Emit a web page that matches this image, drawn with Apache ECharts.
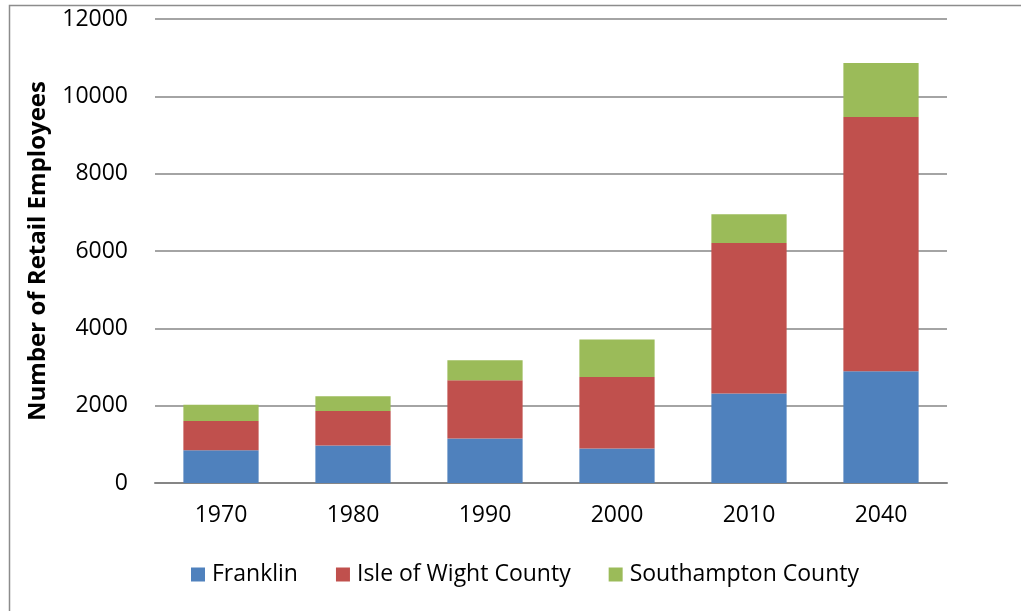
<!DOCTYPE html>
<html lang="en">
<head>
    <meta charset="UTF-8">
    <title>Retail Employees</title>
    <script src="https://cdn.jsdelivr.net/npm/echarts@6/dist/echarts.min.js"></script>
    <style>
        html, body { margin: 0; padding: 0; background: #fff; }
        #main { width: 1021px; height: 611px; }
    </style>
</head>
<body>
    <div id="main"></div>
    <script type="text/javascript">
        // data
        var years = ['1970', '1980', '1990', '2000', '2010', '2040'];
        var franklin = [846, 967, 1148, 890, 2312, 2889];
        var isleOfWight = [757, 895, 1508, 1851, 3894, 6576];
        var southampton = [420, 380, 517, 967, 742, 1396];
        var yTicks = { min: 0, max: 12000, interval: 2000 };

        var font = '"Open Sans", Lato, sans-serif';
        var myChart = echarts.init(document.getElementById('main'));

        function barSeries(name, data, color) {
            return {
                name: name,
                type: 'bar',
                stack: 'total',
                data: data,
                barWidth: '57%',
                itemStyle: { color: color },
                emphasis: { disabled: true }
            };
        }

        var option = {
            animation: false,
            backgroundColor: '#fff',
            textStyle: { fontFamily: font },
            // outer frame of the chart box (only top & left edges visible)
            graphic: [{
                type: 'rect',
                left: 7,
                top: 3,
                shape: { width: 2000, height: 2000 },
                style: { fill: 'none', stroke: '#8c8c8c', lineWidth: 1.5 },
                silent: true
            }],
            grid: { left: 155, right: 74, top: 19, bottom: 128 },
            legend: {
                left: 186,
                top: 558,
                itemWidth: 14,
                itemHeight: 14,
                itemGap: 38,
                icon: 'rect',
                textStyle: { fontFamily: font, fontSize: 23, color: '#000', padding: [0, 0, 0, 2] },
                data: ['Franklin', 'Isle of Wight County', 'Southampton County']
            },
            xAxis: {
                type: 'category',
                data: years,
                axisLine: { lineStyle: { color: '#868686', width: 2 } },
                axisTick: { show: false },
                axisLabel: { fontFamily: font, fontSize: 23, color: '#000', margin: 21 }
            },
            yAxis: {
                type: 'value',
                min: yTicks.min,
                max: yTicks.max,
                interval: yTicks.interval,
                name: 'Number of Retail Employees',
                nameLocation: 'middle',
                nameGap: 105,
                nameTextStyle: { fontFamily: font, fontSize: 24, fontWeight: 'bold', color: '#000' },
                axisLine: { show: false },
                axisTick: { show: false },
                axisLabel: {
                    fontFamily: font, fontSize: 23, color: '#000', margin: 27,
                    formatter: function (v) { return String(v); }
                },
                splitLine: { lineStyle: { color: '#868686', width: 1.5 } }
            },
            series: [
                barSeries('Franklin', franklin, '#4F81BD'),
                barSeries('Isle of Wight County', isleOfWight, '#C0504D'),
                barSeries('Southampton County', southampton, '#9BBB59')
            ]
        };
        myChart.setOption(option);
    </script>
</body>
</html>
